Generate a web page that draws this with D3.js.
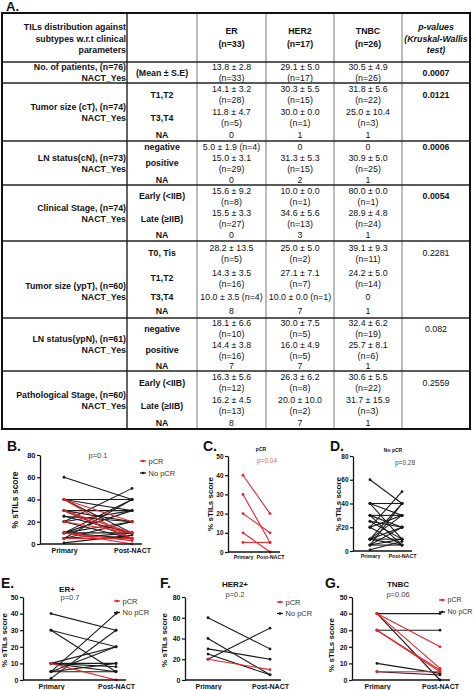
<!DOCTYPE html>
<html><head><meta charset="utf-8">
<script src="https://cdn.jsdelivr.net/npm/d3@7"></script>
<style>
body{margin:0;background:#fff}
svg{display:block}
text{font-family:"Liberation Sans",Arial,Helvetica,sans-serif;fill:#111}
</style>
</head><body>
<svg id="chart" width="474" height="690"></svg>
<script>
// ================= TABLE DATA =================
const headerLabel = ["TILs distribution against", "subtypes w.r.t clinical", "parameters"];
const subtypes = ["ER", "HER2", "TNBC"];
const subtypeN = ["(n=33)", "(n=17)", "(n=26)"];
const pHeader = ["p-values", "(Kruskal-Wallis", "test)"];
const groupLabels = [
  ["No. of patients, (n=76)", "NACT_Yes"],
  ["Tumor size (cT), (n=74)", "NACT_Yes"],
  ["LN status(cN), (n=73)", "NACT_Yes"],
  ["Clinical Stage, (n=74)", "NACT_Yes"],
  ["Tumor size (ypT), (n=60)", "NACT_Yes"],
  ["LN status(ypN), (n=61)", "NACT_Yes"],
  ["Pathological Stage, (n=60)", "NACT_Yes"]
];
const subLabels = [
  ["(Mean ± S.E)"],
  ["T1,T2", "T3,T4", "NA"],
  ["negative", "positive", "NA"],
  ["Early (<IIB)", "Late (≥IIB)", "NA"],
  ["T0, Tis", "T1,T2", "T3,T4", "NA"],
  ["negative", "positive", "NA"],
  ["Early (<IIB)", "Late (≥IIB)", "NA"]
];
const erValues = [
  [["13.8 ± 2.8", "(n=33)"]],
  [["14.1 ± 3.2", "(n=28)"], ["11.8 ± 4.7", "(n=5)"], ["0"]],
  [["5.0 ± 1.9 (n=4)"], ["15.0 ± 3.1", "(n=29)"], ["0"]],
  [["15.6 ± 9.2", "(n=8)"], ["15.5 ± 3.3", "(n=27)"], ["0"]],
  [["28.2 ± 13.5", "(n=5)"], ["14.3 ± 3.5", "(n=16)"], ["10.0 ± 3.5 (n=4)"], ["8"]],
  [["18.1 ± 6.6", "(n=10)"], ["14.4 ± 3.8", "(n=16)"], ["7"]],
  [["16.3 ± 5.6", "(n=12)"], ["16.2 ± 4.5", "(n=13)"], ["8"]]
];
const her2Values = [
  [["29.1 ± 5.0", "(n=17)"]],
  [["30.3 ± 5.5", "(n=15)"], ["30.0 ± 0.0", "(n=1)"], ["1"]],
  [["0"], ["31.3 ± 5.3", "(n=15)"], ["2"]],
  [["10.0 ± 0.0", "(n=1)"], ["34.6 ± 5.6", "(n=13)"], ["3"]],
  [["25.0 ± 5.0", "(n=2)"], ["27.1 ± 7.1", "(n=7)"], ["10.0  ± 0.0 (n=1)"], ["7"]],
  [["30.0 ± 7.5", "(n=5)"], ["16.0 ± 4.9", "(n=5)"], ["7"]],
  [["26.3 ± 6.2", "(n=8)"], ["20.0 ± 10.0", "(n=2)"], ["7"]]
];
const tnbcValues = [
  [["30.5 ± 4.9", "(n=26)"]],
  [["31.8 ± 5.6", "(n=22)"], ["25.0 ± 10.4", "(n=3)"], ["1"]],
  [["0"], ["30.9 ± 5.0", "(n=25)"], ["1"]],
  [["80.0 ± 0.0", "(n=1)"], ["28.9 ± 4.8", "(n=24)"], ["1"]],
  [["39.1 ± 9.3", "(n=11)"], ["24.2 ± 5.0", "(n=14)"], ["0"], ["1"]],
  [["32.4 ± 6.2", "(n=19)"], ["25.7 ± 8.1", "(n=6)"], ["1"]],
  [["30.6 ± 5.5", "(n=22)"], ["31.7 ± 15.9", "(n=3)"], ["1"]]
];
const pValues = ["0.0007", "0.0121", "0.0006", "0.0054", "0.2281", "0.082", "0.2559"];
const pSignificant = [true, true, true, true, false, false, false];

// ================= CHART DATA (Primary, Post-NACT) =================
const allPCR = [[40,20],[40,5],[30,10],[30,5],[20,10],[10,0],[5,5],[10,3]];
const allNoPCR = [[60,40],[40,40],[40,30],[40,10],[30,30],[30,20],[30,5],[25,10],[20,50],[20,30],[10,40],[5,40],[10,30],[10,20],[5,20],[10,10],[10,5],[5,10],[5,5],[1,8],[20,5],[25,20]];
const pcrOnly = [[40,20],[30,5],[20,10],[10,0],[5,5]];
const noPcrOnly = [[60,40],[40,40],[40,30],[40,10],[30,30],[30,20],[30,5],[25,10],[20,50],[20,30],[10,40],[5,40],[10,30],[10,20],[5,20],[10,10],[10,5],[5,10],[5,5],[1,8],[20,5],[25,20]];
const erPCR = [[10,0]];
const erNoPCR = [[40,30],[30,20],[30,5],[5,40],[1,30],[10,20],[5,20],[10,10],[10,5],[5,10],[5,5],[10,8]];
const her2PCR = [[20,10]];
const her2NoPCR = [[60,30],[40,5],[30,20],[25,5],[20,50]];
const tnbcPCR = [[40,20],[40,7],[30,5],[30,6],[5,5]];
const tnbcNoPCR = [[40,40],[30,30],[40,0],[10,4],[5,3]];
const timepoints = ["Primary", "Post-NACT"];
const legendLabels = ["pCR", "No pCR"];

// ================= DRAW =================
const svg = d3.select("#chart");
const RED = "#e2262c", BLK = "#1b1b1b";
const FONT = '"Liberation Sans",Arial,Helvetica,sans-serif';

// ---- Table layout ----
const colX = [2, 127, 197, 266, 334, 402, 470];
const rowY = [13, 62, 83, 141, 185, 241, 318, 371, 429];
const LINE = 11;
const fsB = 8.8, fsR = 8.8;
const colCenter = i => (colX[i] + colX[i + 1]) / 2;

function txt(x, y, s, opt = {}) {
  return svg.append("text")
    .attr("x", x).attr("y", y + (opt.fs || fsR) * 0.35)
    .attr("text-anchor", opt.anchor || "middle")
    .attr("font-size", opt.fs || fsR)
    .attr("font-weight", opt.bold ? "bold" : "normal")
    .attr("font-style", opt.italic ? "italic" : "normal")
    .style("fill", opt.color || "#111")
    .text(s);
}

svg.append("text").attr("x", 6).attr("y", 11).attr("font-size", 13).attr("font-weight", "bold").text("A.");

// header
headerLabel.forEach((s, i) => txt(126, 27 + i * 11.5, s, {anchor: "end", bold: true, fs: fsB}));
subtypes.forEach((s, i) => {
  txt(colCenter(i + 2), 31, s, {bold: true, fs: fsB});
  txt(colCenter(i + 2), 44, subtypeN[i], {bold: true, fs: fsB});
});
pHeader.forEach((s, i) => txt(colCenter(5), 27 + i * 11.5, s, {bold: true, italic: true, fs: fsB}));

const valueCols = [erValues, her2Values, tnbcValues];
groupLabels.forEach((lab, g) => {
  const top = rowY[g + 1], bot = rowY[g + 2];
  const h = bot - top;
  const nLines = subLabels[g].map((_, k) => d3.max(valueCols, c => c[g][k].length));
  const extra = (h - d3.sum(nLines) * LINE) / nLines.length;
  let cur = top;
  const centers = [];
  nLines.forEach((n, k) => {
    const sh = n * LINE + extra;
    const c = cur + sh / 2;
    centers.push(c);
    txt(colCenter(1), c, subLabels[g][k], {bold: true, fs: fsB});
    valueCols.forEach((col, ci) => {
      const lines = col[g][k];
      lines.forEach((s, li) => txt(colCenter(ci + 2), c + (li - (lines.length - 1) / 2) * LINE, s, {fs: fsR}));
    });
    cur += sh;
  });
  const anchor = centers.length > 1 ? centers[centers.length - 2] : (top + bot) / 2 + LINE / 2;
  const second = Math.max((top + bot) / 2 + LINE / 2, anchor);
  txt(126, second - LINE, lab[0], {anchor: "end", bold: true, fs: fsB});
  txt(126, second, lab[1], {anchor: "end", bold: true, fs: fsB});
  txt(colCenter(5), centers[0], pValues[g], {bold: pSignificant[g], fs: fsR});
});

// table lines
const tl = svg.append("g");
colX.slice(2, 6).forEach(x => tl.append("line").attr("x1", x).attr("x2", x).attr("y1", rowY[0]).attr("y2", rowY[rowY.length - 1]).attr("stroke", "#7a7a7a").attr("stroke-width", 1));
tl.append("line").attr("x1", colX[1]).attr("x2", colX[1]).attr("y1", rowY[0]).attr("y2", rowY[rowY.length - 1]).attr("stroke", "#222").attr("stroke-width", 1.4);
rowY.slice(1, -1).forEach(y => tl.append("line").attr("x1", colX[0]).attr("x2", colX[6]).attr("y1", y).attr("y2", y).attr("stroke", "#222").attr("stroke-width", 1.4));
tl.append("rect").attr("x", colX[0]).attr("y", rowY[0]).attr("width", colX[6] - colX[0]).attr("height", rowY[rowY.length - 1] - rowY[0])
  .attr("fill", "none").attr("stroke", "#111").attr("stroke-width", 2);

// ---- Panels ----
function panel(cfg) {
  const g = svg.append("g");
  const y = d3.scaleLinear().domain([0, cfg.max]).range([cfg.y0, cfg.yTop]);
  const x = d3.scalePoint().domain(timepoints).range([cfg.xP, cfg.xQ]);
  const series = [{data: cfg.noPcr, color: BLK}, {data: cfg.pcr, color: RED}];
  series.forEach(s => {
    s.data.forEach(d => {
      g.append("line").attr("x1", x(timepoints[0])).attr("y1", y(d[0])).attr("x2", x(timepoints[1])).attr("y2", y(d[1]))
        .attr("stroke", s.color).attr("stroke-width", 1.1);
      d.forEach((v, i) => g.append("circle").attr("cx", x(timepoints[i])).attr("cy", y(v)).attr("r", 1.4).attr("fill", s.color));
    });
  });
  const ya = g.append("g").attr("transform", `translate(${cfg.ax},0)`)
    .call(d3.axisLeft(y).tickValues(d3.range(0, cfg.max + 1, cfg.step)).tickSize(3).tickSizeOuter(0).tickPadding(1.5));
  ya.select(".domain").attr("stroke", "#111").attr("stroke-width", 1.3);
  ya.selectAll(".tick line").attr("stroke", "#111").attr("stroke-width", 1.2);
  ya.selectAll(".tick text").attr("font-family", FONT).attr("font-weight", "bold").attr("font-size", cfg.tickFs).style("fill", "#111");
  g.append("line").attr("x1", cfg.ax).attr("x2", cfg.xEnd).attr("y1", cfg.y0).attr("y2", cfg.y0).attr("stroke", "#111").attr("stroke-width", 1.3);
  const xa = g.append("g").attr("transform", `translate(0,${cfg.y0})`)
    .call(d3.axisBottom(x).tickSize(0).tickPadding(cfg.xPad));
  xa.select(".domain").remove();
  xa.selectAll(".tick text").attr("font-family", FONT).attr("font-weight", "bold").attr("font-size", cfg.xFs).style("fill", "#111");
  g.append("text").attr("transform", `translate(${cfg.ylx},${cfg.yly}) rotate(-90)`).attr("text-anchor", "middle")
    .attr("font-size", cfg.ylFs).attr("font-weight", "bold").attr("dy", "0.35em").text("% sTILs score");
  g.append("text").attr("x", cfg.lx).attr("y", cfg.ly).attr("font-size", 14).attr("font-weight", "bold").text(cfg.letter);
  if (cfg.title) g.append("text").attr("x", cfg.tx).attr("y", cfg.ty).attr("text-anchor", "middle").attr("font-size", cfg.tFs).attr("font-weight", "bold").text(cfg.title);
  g.append("text").attr("x", cfg.px).attr("y", cfg.py).attr("text-anchor", "middle").attr("font-size", cfg.pFs).style("fill", cfg.pColor || "#444").text(cfg.p);
  if (cfg.legX) {
    [RED, BLK].forEach((c, i) => {
      const ly = cfg.legY + i * cfg.legDy;
      g.append("line").attr("x1", cfg.legX - 3).attr("x2", cfg.legX + 3).attr("y1", ly).attr("y2", ly).attr("stroke", c).attr("stroke-width", 1.3);
      g.append("circle").attr("cx", cfg.legX).attr("cy", ly).attr("r", 1.3).attr("fill", c);
      g.append("text").attr("x", cfg.legX + 5.5).attr("y", ly).attr("dy", "0.35em").attr("font-size", cfg.legFs || 7.5).style("fill", "#333").text(legendLabels[i]);
    });
  }
}

panel({letter: "B.", lx: 7, ly: 451, ax: 40, y0: 544, yTop: 455, max: 80, step: 20, xP: 64, xQ: 132, xEnd: 142,
  pcr: allPCR, noPcr: allNoPCR, tickFs: 7.5, xFs: 7, xPad: 4, ylx: 15, yly: 500, ylFs: 8.5,
  p: "p=0.1", px: 98, py: 458, pFs: 7.5, legX: 143, legY: 461, legDy: 12});
panel({letter: "C.", lx: 203, ly: 451, ax: 228, y0: 552, yTop: 456, max: 50, step: 10, xP: 243, xQ: 270, xEnd: 280,
  pcr: pcrOnly, noPcr: [], tickFs: 6.5, xFs: 5.3, xPad: 3, ylx: 210, yly: 504, ylFs: 8,
  title: "pCR", tx: 261, ty: 451, tFs: 5, p: "p=0.04", px: 267, py: 463, pFs: 6.5, pColor: "#e05a5e"});
panel({letter: "D.", lx: 330, ly: 451, ax: 353, y0: 551, yTop: 456, max: 80, step: 20, xP: 370, xQ: 402, xEnd: 412,
  pcr: [], noPcr: noPcrOnly, tickFs: 6.5, xFs: 5.3, xPad: 3, ylx: 338, yly: 504, ylFs: 8,
  title: "No pCR", tx: 393, ty: 452, tFs: 5, p: "p=0.28", px: 405, py: 465, pFs: 6.5});
panel({letter: "E.", lx: 1, ly: 588, ax: 23, y0: 680, yTop: 597, max: 50, step: 10, xP: 51, xQ: 116, xEnd: 126,
  pcr: erPCR, noPcr: erNoPCR, tickFs: 7, xFs: 7, xPad: 4, ylx: 4, yly: 640, ylFs: 8,
  title: "ER+", tx: 67, ty: 592, tFs: 8, p: "p=0.7", px: 70, py: 600, pFs: 7.5, legX: 117, legY: 601, legDy: 11.5});
panel({letter: "F.", lx: 160, ly: 588, ax: 185, y0: 680, yTop: 597, max: 80, step: 20, xP: 208, xQ: 270, xEnd: 281,
  pcr: her2PCR, noPcr: her2NoPCR, tickFs: 7, xFs: 7, xPad: 4, ylx: 164, yly: 640, ylFs: 8,
  title: "HER2+", tx: 235, ty: 587, tFs: 8, p: "p=0.2", px: 235, py: 597, pFs: 7.5, legX: 280, legY: 602, legDy: 11.5});
panel({letter: "G.", lx: 325, ly: 588, ax: 352, y0: 680, yTop: 597, max: 50, step: 10, xP: 377, xQ: 440, xEnd: 450,
  pcr: tnbcPCR, noPcr: tnbcNoPCR, tickFs: 7, xFs: 7, xPad: 4, ylx: 331, yly: 645, ylFs: 8,
  title: "TNBC", tx: 398, ty: 587, tFs: 8, p: "p=0.06", px: 398, py: 597, pFs: 7.5, legX: 442, legY: 600, legDy: 12, legFs: 7});
</script>
</body></html>
